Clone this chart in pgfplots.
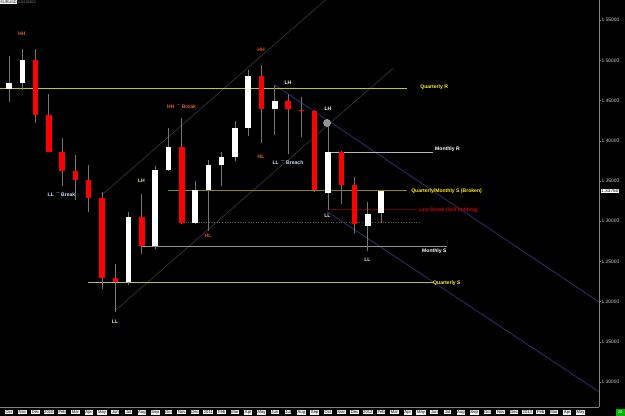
\documentclass[border=0pt]{standalone}
\usepackage{fontspec}
\setmainfont{Liberation Sans}
\usepackage{pgfplots}
\usepackage{pgfplotstable}
\pgfplotsset{compat=1.18}
\definecolor{wick}{HTML}{747474}
\definecolor{bearred}{HTML}{FF0000}
\definecolor{qyellow}{HTML}{C8C800}
\definecolor{qolive}{HTML}{8A8A00}
\definecolor{qsline}{HTML}{C0C050}
\definecolor{mline}{HTML}{B8B8B8}
\definecolor{lbred}{HTML}{6A0000}
\definecolor{navy}{HTML}{2E2E70}
\definecolor{chan}{HTML}{3A3A3A}
\definecolor{orng}{HTML}{D8642A}
\definecolor{orng2}{HTML}{E8501E}
\definecolor{pale}{HTML}{F2DCC0}
\definecolor{paleb}{HTML}{D0E0FF}
\newcommand\lab{\fontsize{5.1}{5.3}\selectfont\bfseries}

% x = month index (0 = Oct 2009), open, high, low, close
\pgfplotstableread{
x o h l c
0 1.4640 1.5061 1.4483 1.4717
1 1.4717 1.5145 1.4630 1.5005
9 1.2240 1.3111 1.2205 1.3048
11 1.2699 1.3690 1.2660 1.3635
12 1.3635 1.4160 1.3630 1.3930
14 1.2985 1.3500 1.2970 1.3387
15 1.3387 1.3760 1.2875 1.3695
16 1.3695 1.3860 1.3440 1.3805
17 1.3805 1.4250 1.3752 1.4160
18 1.4160 1.4882 1.4060 1.4807
20 1.4397 1.4697 1.4075 1.4500
24 1.3350 1.4247 1.3145 1.3866
27 1.2945 1.3235 1.2625 1.3090
28 1.3100 1.3377 1.2983 1.3376
}\bull
\pgfplotstableread{
x o h l c
2 1.5005 1.5144 1.4218 1.4321
3 1.4321 1.4580 1.3858 1.3865
4 1.3865 1.4030 1.3444 1.3627
5 1.3627 1.3820 1.3266 1.3510
6 1.3510 1.3695 1.3114 1.3295
7 1.3295 1.3370 1.2158 1.2300
8 1.2300 1.2470 1.1876 1.2240
10 1.3048 1.3334 1.2588 1.2699
13 1.3930 1.4285 1.2970 1.2985
19 1.4807 1.4940 1.3970 1.4397
21 1.4500 1.4578 1.3840 1.4395
22 1.4385 1.4549 1.4053 1.4370
23 1.4376 1.4385 1.3361 1.3395
25 1.3866 1.3875 1.3215 1.3450
26 1.3450 1.3545 1.2860 1.2963
}\bear

\begin{document}
\begin{tikzpicture}
\fill[black] (0,0) rectangle (625bp,416bp);
\begin{axis}[
  at={(0bp,9bp)}, anchor=south west,
  width=599bp, height=407bp, scale only axis,
  xmin=-0.677, xmax=44.39, ymin=1.06903, ymax=1.57525,
  axis x line*=bottom, axis y line*=right,
  axis line style={draw=gray, line width=0.8bp},
  clip=true,
  /pgf/number format/assume math mode=true,
  ytick={1.10,1.15,1.20,1.25,1.30,1.35,1.40,1.45,1.50,1.55},
  yticklabel style={font=\fontsize{4.9}{5}\selectfont, text=white!80!black, inner sep=0.5bp, xshift=0.5bp,
    /pgf/number format/.cd, fixed, fixed zerofill, precision=5},
  ytick style={draw=gray, line width=0.5bp},
  tick align=outside, major tick length=1.5bp,
  xtick={0,...,43},
  xticklabels={Oct,Nov,Dec,2010,Feb,Mar,Apr,May,Jun,Jul,Aug,Sep,Oct,Nov,Dec,2011,Feb,Mar,Apr,May,Jun,Jul,Aug,Sep,Oct,Nov,Dec,2012,Feb,Mar,Apr,May,Jun,Jul,Aug,Sep,Oct,Nov,Dec,2013,Feb,Mar,Apr,May},
  xticklabel style={font=\fontsize{4.2}{4.5}\selectfont, fill=white!92!gray, text=black, inner sep=0.6bp, anchor=north, yshift=-1.5bp},
  xtick style={draw=none},
]
% channel lines
\addplot[chan, line width=0.6bp] coordinates {(6.98,1.3327) (24.0,1.5780)};
\addplot[chan, line width=0.6bp] coordinates {(8.05,1.1899) (28.9,1.4903)};
\addplot[navy, line width=0.8bp] coordinates {(20.0,1.4695) (44.39,1.1996)};
\addplot[navy, line width=0.8bp] coordinates {(23.93,1.3122) (44.39,1.0879)};
% horizontal levels
\addplot[qyellow, line width=0.9bp] coordinates {(-0.677,1.4654) (29.95,1.4654)};
\addplot[mline, line width=1bp] coordinates {(23.78,1.3858) (31.9,1.3858)};
\addplot[qolive, line width=0.9bp] coordinates {(11.96,1.3389) (29.95,1.3389)};
\addplot[lbred, line width=0.9bp] coordinates {(24.0,1.3150) (30.7,1.3150)};
\addplot[gray!70!black, line width=0.6bp, dotted] coordinates {(13.1,1.2983) (30.9,1.2983)};
\addplot[mline!80!black, line width=1bp] coordinates {(9.98,1.2689) (32.93,1.2689)};
\addplot[qsline, line width=0.9bp] coordinates {(5.94,1.2241) (31.9,1.2241)};
% wicks
\addplot[draw=none, mark=none, error bars/.cd, y dir=plus, y explicit, error mark=none,
  error bar style={draw=wick, line width=0.9bp}]
  table[x=x, y=l, y error plus expr=\thisrow{h}-\thisrow{l}] \bull;
\addplot[draw=none, mark=none, error bars/.cd, y dir=plus, y explicit, error mark=none,
  error bar style={draw=wick, line width=0.9bp}]
  table[x=x, y=l, y error plus expr=\thisrow{h}-\thisrow{l}] \bear;
% bodies
\addplot[draw=none, mark=none, error bars/.cd, y dir=plus, y explicit, error mark=none,
  error bar style={draw=white, line width=5.5bp}]
  table[x=x, y=o, y error plus expr=\thisrow{c}-\thisrow{o}] \bull;
\addplot[draw=none, mark=none, error bars/.cd, y dir=plus, y explicit, error mark=none,
  error bar style={draw=bearred, line width=5.5bp}]
  table[x=x, y=c, y error plus expr=\thisrow{o}-\thisrow{c}] \bear;
% grey circle
\addplot[only marks, mark=*, mark size=3.6bp, mark options={fill=gray!85, draw=gray!60}] coordinates {(23.93,1.4223)};
% annotations
\node[text=orng, font=\lab] at (axis cs:0.956,1.5333) {HH};
\node[text=orng, font=\lab] at (axis cs:12.98,1.4434) {HH $^{-}$Break};
\node[text=paleb, font=\lab] at (axis cs:3.95,1.3343) {LL $^{-}$Break};
\node[text=pale, font=\lab] at (axis cs:9.97,1.3501) {LH};
\node[text=pale, font=\lab] at (axis cs:7.98,1.1748) {LL};
\node[text=orng2, font=\lab] at (axis cs:14.97,1.2817) {HL};
\node[text=orng2, font=\lab] at (axis cs:18.96,1.5131) {HH};
\node[text=orng, font=\lab] at (axis cs:18.96,1.3800) {HL};
\node[text=white!90!yellow, font=\lab] at (axis cs:20.99,1.4724) {LH};
\node[text=paleb, font=\lab] at (axis cs:20.99,1.3741) {LL $^{-}$Breach};
\node[text=white!90!yellow, font=\lab] at (axis cs:24.0,1.4397) {LH};
\node[text=pale, font=\lab] at (axis cs:23.96,1.3066) {LL};
\node[text=pale, font=\lab] at (axis cs:26.97,1.2519) {LL};
\node[text=yellow!90!white, font=\lab, anchor=west, inner sep=0pt] at (axis cs:30.93,1.4670) {Quarterly R};
\node[text=white, font=\lab, anchor=west, inner sep=0pt] at (axis cs:32.05,1.3899) {Monthly R};
\node[text=yellow, font=\lab, anchor=west, inner sep=0pt] at (axis cs:30.25,1.3377) {Quarterly/Monthly S (Broken)};
\node[text=red!80!black, font=\lab, anchor=west, inner sep=0pt] at (axis cs:30.8,1.3140) {Last Break (still holding)};
\node[text=white, font=\lab, anchor=east, inner sep=0pt] at (axis cs:32.93,1.2628) {Monthly S};
\node[text=yellow!85!white, font=\lab, anchor=west, inner sep=0pt] at (axis cs:31.9,1.2228) {Quarterly S};
\coordinate (cp) at (axis cs:44.39,1.3376);
\end{axis}
\node[anchor=west, fill=white, text=black, inner sep=0.5bp, font=\fontsize{4.8}{5}\selectfont] at ([xshift=1.5bp]cp) {1.33760};
\node[anchor=north west, fill=white, text=black, inner sep=0.5bp, font=\fontsize{3.8}{4}\selectfont] at (0bp,416bp) {EURUSD};
\node[anchor=north west, text=gray, inner sep=0.5bp, font=\fontsize{3.8}{4}\selectfont] at (17bp,416bp) {V:6419662};
\node[anchor=south east, fill=green!70!black, text=white, inner sep=0.6bp, minimum width=9bp, minimum height=7bp, font=\fontsize{4}{4}\selectfont] at (625bp,0bp) {26};
\pgfresetboundingbox
\useasboundingbox (0,0) rectangle (625bp,416bp);
\end{tikzpicture}
\end{document}
